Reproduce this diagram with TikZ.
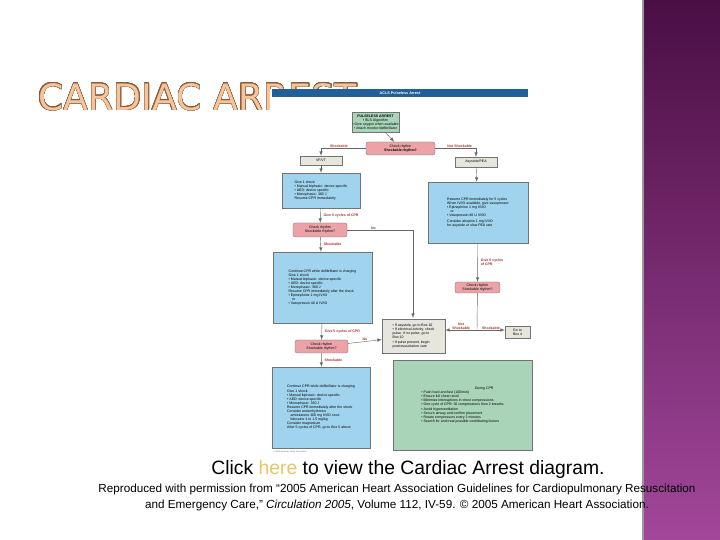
\documentclass[tikz,border=0pt]{standalone}
\usepackage{fontspec}
\setmainfont{Liberation Sans}
\newfontfamily\titlefont{DejaVu Sans}
\usepackage{contour}
\contourlength{0.35pt}
\contournumber{24}
\usetikzlibrary{positioning}
\definecolor{barblue}{HTML}{1F5F9A}
\definecolor{boxgreen}{HTML}{A9D4B8}
\definecolor{boxblue}{HTML}{9FD3EE}
\definecolor{boxpink}{HTML}{EBA3A8}
\definecolor{boxgray}{HTML}{E6E6DC}
\definecolor{lblred}{HTML}{B02A2A}
\definecolor{bandtop}{HTML}{4A0E44}
\definecolor{bandbot}{HTML}{A2479A}
\definecolor{linkgold}{HTML}{E8C36A}
\definecolor{titlefill}{HTML}{F5C49A}
\definecolor{titleedge}{HTML}{8A5A3A}
% block from corner (x1,y1) to (x2,y2) in pixels
\newcommand{\blk}[7]{\node (#1) [#2,minimum width={(#5-#3)*0.03cm},minimum height={(#6-#4)*0.03cm}]
  at ({(#3+#5)/2},{(#4+#6)/2}) {#7};}
\newcommand{\bu}{\textbullet\ }
\begin{document}
\begin{tikzpicture}[x=0.03cm,y=-0.03cm,
fc/.style={draw=black!55,line width=0.3pt,inner sep=0.5pt,font=\fontsize{3}{3.5}\selectfont,align=center},
gbox/.style={fc,fill=boxgreen},
bbox/.style={fc,fill=boxblue},
pbox/.style={fc,fill=boxpink,rounded corners=2pt},
grbox/.style={fc,fill=boxgray},
lbl/.style={text=lblred,font=\fontsize{3}{3.4}\selectfont\bfseries,inner sep=0.5pt},
link/.style={draw=black!60,line width=0.35pt,-latex}]
\useasboundingbox (0,0) rectangle (720,540);
% band at the right
\shade[top color=bandtop,bottom color=bandbot] (643,0) rectangle (720,540);
\draw[black!40,line width=1pt] (643,0) -- (643,540);
% title
\node (title) [anchor=west,font=\titlefont\fontsize{31}{31}\selectfont,inner sep=0] at (38,97)
  {\contour{titleedge}{\textcolor{titlefill}{CARDIAC ARREST}}};
% the algorithm picture
\fill[white] (270,89) rectangle (530,455);
\node (bar) [fill=barblue,text=white,minimum width={256*0.03cm},minimum height={8*0.03cm},inner sep=0,
  font=\fontsize{3.2}{3.5}\selectfont\bfseries] at (400,93) {ACLS Pulseless Arrest};
\blk{pulseless}{gbox}{353}{112}{398}{132}{\textbf{PULSELESS ARREST}\\ \bu BLS Algorithm\\ \bu Give oxygen when available\\ \bu Attach monitor/defibrillator}
\blk{check}{pbox}{366}{142}{435}{155}{Check rhythm\\ \textbf{Shockable rhythm?}}
\blk{vfvt}{grbox}{300}{156}{342}{165}{VF/VT}
\blk{asys}{grbox}{455}{157}{497}{167}{Asystole/PEA}
\blk{shock}{bbox,align=left}{282}{173}{360}{208}{Give 1 shock\\ \bu Manual biphasic: device specific\\ \bu AED: device specific\\ \bu Monophasic: 360 J\\ Resume CPR immediately}
\blk{checkb}{pbox}{293}{223}{347}{237}{Check rhythm\\ Shockable rhythm?}
\blk{cprb}{bbox,align=left}{273}{252}{372}{323}{Continue CPR while defibrillator is charging\\ Give 1 shock\\ \bu Manual biphasic: device specific\\ \bu AED: device specific\\ \bu Monophasic: 360 J\\ Resume CPR immediately after the shock\\ \bu Epinephrine 1 mg IV/IO\\ \quad or\\ \bu Vasopressin 40 U IV/IO}
\blk{cpra}{bbox,align=left}{428}{182}{528}{243}{Resume CPR immediately for 5 cycles\\ When IV/IO available, give vasopressor\\ \bu Epinephrine 1 mg IV/IO\\ \quad or\\ \bu Vasopressin 40 U IV/IO\\[1pt] Consider atropine 1 mg IV/IO\\ for asystole or slow PEA rate}
\blk{checkd}{pbox}{455}{282}{500}{293}{Check rhythm\\ Shockable rhythm?}
\blk{checkc}{pbox}{295}{340}{348}{353}{Check rhythm\\ Shockable rhythm?}
\blk{noshock}{grbox,align=left}{382}{319}{445}{353}{\bu If asystole, go to Box 10\\ \bu If electrical activity, check\\ pulse. If no pulse, go to\\ Box 10\\ \bu If pulse present, begin\\ postresuscitation care}
\blk{gobox}{grbox}{505}{326}{530}{338}{Go to\\ Box 4}
\blk{cprc}{bbox,align=left}{272}{367}{370}{448}{Continue CPR while defibrillator is charging\\ Give 1 shock\\ \bu Manual biphasic: device specific\\ \bu AED: device specific\\ \bu Monophasic: 360 J\\ Resume CPR immediately after the shock\\ Consider antiarrhythmics\\ \quad amiodarone 300 mg IV/IO once\\ \quad lidocaine 1 to 1.5 mg/kg\\ Consider magnesium\\ After 5 cycles of CPR, go to Box 5 above}
\blk{during}{gbox,align=left}{393}{360}{532}{450}{\hspace{16mm}\textit{During CPR}\\ \bu Push hard and fast (100/min)\\ \bu Ensure full chest recoil\\ \bu Minimize interruptions in chest compressions\\ \bu One cycle of CPR: 30 compressions then 2 breaths\\ \bu Avoid hyperventilation\\ \bu Secure airway and confirm placement\\ \bu Rotate compressors every 2 minutes\\ \bu Search for and treat possible contributing factors}
\node (credit) [font=\fontsize{1.8}{2}\selectfont,text=black!60,anchor=west,inner sep=0] at (273,452) {\copyright\ 2005 American Heart Association};
% connectors
\draw[link] (pulseless) -- (check);
\draw[link] (check.west) -| (vfvt.north) node[lbl,pos=0.3,above] {Shockable};
\draw[link] (check.east) -| (asys.north) node[lbl,pos=0.3,above] {Not Shockable};
\draw[link] (vfvt) -- (shock);
\draw[link] (shock) -- (checkb) node[lbl,midway,right=2pt] {Give 5 cycles of CPR};
\draw[link] (checkb) -- (cprb) node[lbl,midway,right=2pt] {Shockable};
\draw[link] (checkb.east) -| (413,318) node[lbl,pos=0.2,above] {No};
\draw[link] (asys) -- (cpra);
\draw[link] (cpra) -- (checkd) node[lbl,midway,right=2pt,align=left] {Give 5 cycles\\ of CPR};
\draw[link] (cprb) -- (checkc) node[lbl,midway,right=2pt] {Give 5 cycles of CPR};
\draw[link] (checkc) -- (noshock) node[lbl,midway,above] {No};
\draw[link] (checkc) -- (cprc) node[lbl,midway,right=2pt] {Shockable};
\coordinate (split) at (477,330);
\draw[draw=black!60,line width=0.35pt] (checkd) -- (split);
\draw[link] (split) -- (noshock.east|-split) node[lbl,midway,above,align=center] {Not\\ Shockable};
\draw[link] (split) -- (gobox.west|-split) node[lbl,midway,above] {Shockable};
% captions
\node (click) [font=\fontsize{16.5}{18}\selectfont] at (408,470) {Click \textcolor{linkgold}{here} to view the Cardiac Arrest diagram.};
\node (source) [font=\fontsize{10}{13.5}\selectfont,align=center,anchor=north] at (397,480) {Reproduced with permission from ``2005 American Heart Association Guidelines for Cardiopulmonary Resuscitation\\ and Emergency Care,'' \textit{Circulation 2005}, Volume 112, IV-59. \copyright\ 2005 American Heart Association.};
\end{tikzpicture}
\end{document}
